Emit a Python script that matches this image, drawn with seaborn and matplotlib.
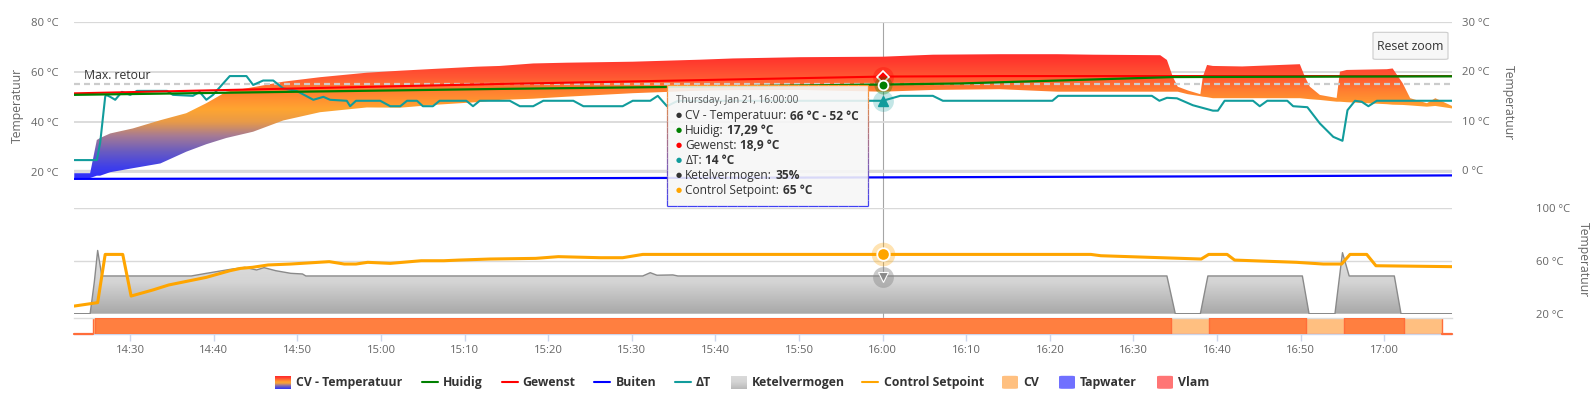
import numpy as np
import matplotlib
matplotlib.use('Agg')
import matplotlib.pyplot as plt
import seaborn as sns
from matplotlib.colors import LinearSegmentedColormap
from matplotlib.patches import FancyBboxPatch
from matplotlib.lines import Line2D
from matplotlib.collections import LineCollection
from matplotlib.ticker import FuncFormatter

# time axis in minutes after 14:00
# CV - Temperatuur (range: high / low), left axis
cv_t = [23.3, 25.2, 26.0, 26.4, 27.6, 30.3, 33.6, 36.7, 39.1, 41.5, 44.7, 48.3, 52.7, 58.3,
        62.3, 66.2, 71.4, 74.2, 78.2, 82.2, 90.1, 98.1, 102.1, 110.1, 120.0, 126.0, 134.0,
        140.9, 145.2, 153.2, 154.0, 154.7, 155.3, 156.5, 158.0, 158.3, 158.8, 159.5, 163.0,
        169.9, 170.5, 171.1, 172.3, 174.3, 174.7, 175.5, 180.3, 181.0, 182.2, 183.1, 185.1,
        186.1, 188.1]
cv_high = [19.4, 19.4, 32.7, 33.5, 35.3, 37.3, 40.6, 43.4, 47.4, 52.0, 53.8, 56.0, 57.8, 59.6,
           60.4, 61.1, 62.0, 62.3, 63.3, 63.6, 64.0, 64.8, 65.3, 65.8, 66.0, 66.8, 67.0,
           67.0, 66.8, 66.6, 64.7, 58.0, 54.0, 52.5, 51.0, 58.0, 62.7, 62.3, 62.1,
           63.0, 58.0, 54.0, 50.7, 49.5, 60.0, 60.7, 61.0, 61.3, 55.4, 49.4, 47.4,
           49.4, 46.3]
cv_low = [17.5, 17.5, 18.4, 18.4, 19.8, 21.4, 23.3, 28.0, 31.0, 33.5, 36.0, 40.5, 43.8, 45.7,
          45.6, 46.7, 47.8, 48.7, 49.2, 50.0, 51.4, 52.4, 52.6, 52.7, 52.0, 52.7, 53.0,
          52.0, 52.0, 52.0, 52.0, 52.0, 52.0, 51.0, 50.2, 50.0, 49.8, 49.4, 49.4,
          49.4, 49.2, 49.0, 48.7, 48.0, 48.0, 47.8, 47.0, 46.8, 46.7, 46.5, 46.0,
          46.3, 45.3]
max_retour = 55

# right axis series
huidig_t = [23.3, 74.2, 120.0, 129.2, 154.7, 188.1]
huidig = [15.2, 16.4, 17.29, 17.5, 18.8, 18.95]
gewenst_t = [23.3, 74.2, 120.0, 134.0, 188.1]
gewenst = [15.5, 17.4, 18.9, 19.0, 19.0]
buiten_t = [23.3, 74.2, 120.0, 158.0, 188.1]
buiten = [-1.8, -1.7, -1.5, -1.3, -1.1]
dt_t = [23.3, 26.0, 26.4, 27.0, 27.1, 27.6, 28.2, 29.0, 30.0, 30.8, 34.4, 35.1, 37.5, 38.3,
        39.1, 39.9, 41.9, 43.9, 44.7, 45.9, 47.1, 48.3, 49.9, 51.9, 53.1, 53.9, 55.9, 56.3,
        57.0, 59.9, 61.1, 62.3, 63.1, 64.3, 65.0, 66.2, 67.0, 70.2, 71.0, 71.8, 75.4, 76.6,
        78.2, 79.4, 83.0, 84.2, 88.9, 90.1, 92.2, 93.1, 94.2, 95.5, 120.0, 122.1, 126.0,
        127.2, 140.3, 141.0, 152.2, 153.1, 154.0, 155.2, 157.1, 159.5, 160.1, 160.9, 164.3,
        165.1, 166.0, 168.4, 169.1, 170.8, 172.3, 173.9, 175.0, 175.6, 176.5, 177.3, 178.1,
        179.1, 188.1]
delta_t = [2.0, 2.0, 5.5, 14.8, 15.2, 14.8, 14.2, 15.8, 15.2, 16.0, 16.0, 15.2, 15.0, 15.8,
           14.2, 15.2, 19.0, 19.0, 17.2, 18.1, 18.1, 16.5, 16.0, 14.2, 14.8, 14.2, 14.0, 12.9,
           14.0, 14.0, 12.9, 12.9, 14.0, 14.0, 12.9, 12.9, 14.0, 14.0, 12.9, 14.0, 14.0, 12.9,
           12.9, 14.0, 14.0, 12.9, 12.9, 14.0, 14.0, 15.0, 12.9, 14.0, 14.0, 15.0, 15.0,
           14.0, 14.0, 15.0, 15.0, 14.0, 14.6, 14.5, 13.1, 12.0, 12.0, 14.0, 14.0,
           12.9, 14.0, 14.0, 12.9, 12.7, 9.4, 6.7, 5.9, 12.1, 14.0, 13.8, 12.9,
           14.0, 14.0]

# middle panel
setpoint_t = [23.3, 26.1, 27.0, 29.1, 30.1, 32.7, 34.6, 39.1, 41.9, 43.2, 44.6, 46.5, 49.2,
              53.8, 55.6, 57.0, 58.4, 61.1, 64.8, 67.5, 69.3, 73.0, 78.5, 81.2, 86.2, 88.9,
              91.3, 120.0, 144.9, 146.1, 158.1, 159.0, 161.2, 162.1, 169.5, 172.7, 174.9,
              175.9, 177.9, 179.0, 188.1]
setpoint = [25.8, 28.4, 65.0, 65.0, 33.4, 38.0, 41.8, 47.6, 52.6, 54.4, 55.2, 57.0, 57.7,
            59.5, 57.7, 57.7, 59.0, 58.2, 60.2, 60.2, 60.7, 61.5, 62.0, 63.3, 62.5, 62.5,
            65.0, 65.0, 65.0, 64.0, 61.5, 65.0, 65.0, 60.7, 59.0, 57.7, 57.7,
            65.0, 65.0, 56.4, 55.7]
kv_t = [23.3, 25.2, 25.7, 26.1, 26.6, 37.3, 39.1, 41.9, 43.7, 45.1, 46.0, 47.4, 49.2, 50.6,
        51.0, 91.3, 92.2, 93.0, 94.9, 95.5, 154.0, 155.0, 158.0, 158.9, 170.2, 171.0, 174.1,
        175.0, 175.8, 181.2, 182.0, 188.1]
ketelvermogen = [0, 0, 30, 60, 35.8, 35.8, 38.3, 42.0, 44.0, 41.5, 43.7, 40.8, 38.3, 37.7,
                 35.8, 35.8, 38.9, 36.5, 36.8, 35.8, 35.8, 0, 0, 35.8, 35.8, 0, 0,
                 57.9, 35.8, 35.8, 0, 0]

# state bars
cv_on = [(25.5, 186.9)]
vlam_on = [(25.8, 154.5), (159.0, 170.6), (175.2, 182.4)]

# tooltip at 16:00
hover_t = 120.0
tip_header = 'Thursday, Jan 21, 16:00:00'
tip_names = ['CV - Temperatuur:', 'Huidig:', 'Gewenst:', '\u0394T:', 'Ketelvermogen:', 'Control Setpoint:']
tip_values = ['66 \u00b0C - 52 \u00b0C', '17,29 \u00b0C', '18,9 \u00b0C', '14 \u00b0C', '35%', '65 \u00b0C']
tip_huidig, tip_gewenst, tip_dt, tip_kv, tip_setpoint = 17.29, 18.9, 14, 35, 65

W, H = 1596, 395
TXT = '#333333'
LBL = '#666666'
GRID = '#d9d9d9'
GREEN, RED, BLUE, TEAL, ORANGE = '#008000', '#ff0000', '#0000ff', '#119c9c', '#ffa500'

sns.set_theme(style='white')
plt.rcParams['font.family'] = ['Open Sans', 'DejaVu Sans']

fig = plt.figure(figsize=(W / 100, H / 100), dpi=100)


def fx(x):
    return x / W


def fy(y):
    return 1 - y / H


def add_ax(x0, y0, x1, y1):
    a = fig.add_axes([x0 / W, 1 - y1 / H, (x1 - x0) / W, (y1 - y0) / H])
    a.patch.set_alpha(0)
    return a


def clean(a):
    for s in a.spines.values():
        s.set_visible(False)


def fmt_time(m, _):
    m = int(round(m))
    return f'{14 + m // 60}:{m % 60:02d}'


XL = (23.27, 188.1)
cv_cmap = LinearSegmentedColormap.from_list('cv', [
    (0.0, '#2b2bff'), (0.10, '#4040e8'), (0.22, '#6a5cc0'), (0.34, '#a57a95'),
    (0.45, '#e89a48'), (0.55, '#ffa530'), (0.69, '#ff8030'), (0.80, '#ff5833'),
    (0.92, '#ff3a2e'), (1.0, '#ff2a2a')])
kv_cmap = LinearSegmentedColormap.from_list('kv', ['#a8a8a8', '#d4d4d4', '#e0e0e0'])

# ---------------- top panel ----------------
ax_t = add_ax(74, 21.7, 1452, 180)
clean(ax_t)
YT = (16.68, 80)
for v in [20, 40, 60]:
    ax_t.axhline(v, color=GRID, lw=1.3, zorder=0)
ax_t.axhline(80, color=GRID, lw=0.9, zorder=0)
# right axis grid (0 °C sits just above the 20 °C line)
for v in [0]:
    ax_t.axhline(80 - (30 - v) * 4.943 / 2.5, color=GRID, lw=1.0, zorder=0)

poly = ax_t.fill_between(cv_t, cv_low, cv_high, color='none', lw=0)
grad = np.linspace(YT[0], YT[1], 400).reshape(-1, 1)
im = ax_t.imshow(grad, extent=[XL[0], XL[1], YT[0], YT[1]], origin='lower', aspect='auto',
                 cmap=cv_cmap, vmin=16.68, vmax=68, zorder=1)
im.set_clip_path(poly.get_paths()[0], transform=ax_t.transData)
ax_t.axhline(max_retour, color='#cccccc', lw=1.6, dashes=(2.7, 1.8), zorder=3)
ax_t.text(24.5, 58.4, 'Max. retour', fontsize=8.8, color=TXT, va='center', zorder=4)
ax_t.set_xlim(*XL)
ax_t.set_ylim(*YT)
ax_t.set_xticks([])
ax_t.set_yticks([20, 40, 60, 80])
ax_t.set_yticklabels([f'{v} \u00b0C' for v in [20, 40, 60, 80]])
ax_t.tick_params(axis='y', length=0, pad=11.3, labelsize=8.1, labelcolor=LBL)

ax_r = ax_t.twinx()
clean(ax_r)
ax_r.patch.set_alpha(0)
sns.lineplot(x=buiten_t, y=buiten, ax=ax_r, color=BLUE, lw=1.6, estimator=None, sort=False, legend=False)
sns.lineplot(x=dt_t, y=delta_t, ax=ax_r, color=TEAL, lw=1.5, estimator=None, sort=False, legend=False)
sns.lineplot(x=gewenst_t, y=gewenst, ax=ax_r, color=RED, lw=1.5, estimator=None, sort=False, legend=False)
sns.lineplot(x=huidig_t, y=huidig, ax=ax_r, color=GREEN, lw=1.6, estimator=None, sort=False, legend=False)
ax_r.plot(hover_t, tip_dt, 'o', ms=15, color=TEAL, alpha=0.25, mec='none')
ax_r.plot(hover_t, tip_dt, '^', ms=7, color=TEAL, mec=TEAL)
ax_r.plot(hover_t, tip_gewenst, 'o', ms=15, color=RED, alpha=0.3, mec='none')
ax_r.plot(hover_t, tip_gewenst, 'D', ms=6.5, color=RED, mec='white', mew=1.2)
ax_r.plot(hover_t, tip_huidig, 'o', ms=13, color=GREEN, alpha=0.3, mec='none')
ax_r.plot(hover_t, tip_huidig, 'o', ms=7, color=GREEN, mec='white', mew=1.3)
ax_r.set_xlim(*XL)
ax_r.set_ylim(-2.03, 30)
ax_r.set_yticks([0, 10, 20, 30])
ax_r.set_yticklabels([f'{v} \u00b0C' for v in [0, 10, 20, 30]])
ax_r.tick_params(axis='y', length=0, pad=7, labelsize=8.1, labelcolor=LBL)
ax_r.set_ylabel('')

# ---------------- middle panel ----------------
ax_k = add_ax(74, 208.3, 1452, 313.7)
clean(ax_k)
for v in [20, 60, 100]:
    ax_k.axhline((v - 20) / 80 * 100, color=GRID, lw=1.0, zorder=0)
kpoly = ax_k.fill_between(kv_t, 0, ketelvermogen, color='none', lw=0)
kgrad = np.linspace(0, 100, 200).reshape(-1, 1)
kim = ax_k.imshow(kgrad, extent=[XL[0], XL[1], 0, 100], origin='lower', aspect='auto',
                  cmap=kv_cmap, vmin=0, vmax=60, zorder=1)
kim.set_clip_path(kpoly.get_paths()[0], transform=ax_k.transData)
sns.lineplot(x=kv_t, y=ketelvermogen, ax=ax_k, color='#8a8a8a', lw=1.0, estimator=None,
             sort=False, legend=False)
ax_k.plot(hover_t, tip_kv, 'o', ms=15, color='#888888', alpha=0.45, mec='none')
ax_k.plot(hover_t, tip_kv, 'v', ms=7, color='#8a8a8a', mec='white', mew=0.8)
ax_k.set_xlim(*XL)
ax_k.set_ylim(0, 100)
ax_k.set_xticks([])
ax_k.set_yticks([])
ax_k.set_ylabel('')

ax_m = ax_k.twinx()
clean(ax_m)
ax_m.patch.set_alpha(0)
sns.lineplot(x=setpoint_t, y=setpoint, ax=ax_m, color=ORANGE, lw=2.2, estimator=None,
             sort=False, legend=False)
ax_m.plot(hover_t, tip_setpoint, 'o', ms=17, color=ORANGE, alpha=0.3, mec='none')
ax_m.plot(hover_t, tip_setpoint, 'o', ms=9, color=ORANGE, mec='white', mew=1.3)
ax_m.set_xlim(*XL)
ax_m.set_ylim(20, 100)
ax_m.set_yticks([20, 60, 100])
ax_m.set_yticklabels([f'{v} \u00b0C' for v in [20, 60, 100]])
ax_m.tick_params(axis='y', length=0, pad=60.5, labelsize=8.1, labelcolor=LBL)
ax_m.set_ylabel('')

# ---------------- state strip ----------------
ax_b = add_ax(74, 317.5, 1452, 334.3)
for k in ['left', 'right']:
    ax_b.spines[k].set_visible(False)
ax_b.spines['top'].set_color('#dddddd')
ax_b.spines['top'].set_linewidth(1.0)
ax_b.spines['bottom'].set_color('#ccd6eb')
ax_b.spines['bottom'].set_linewidth(1.0)
ax_b.broken_barh([(a, b - a) for a, b in cv_on], (0, 1), facecolor='#ffbf80',
                 edgecolor='#ff6d3a', lw=1.0, zorder=2)
ax_b.broken_barh([(a, b - a) for a, b in vlam_on], (0, 1), facecolor='#ff7f40',
                 edgecolor='#ff6d3a', lw=1.0, zorder=3)
ax_b.plot([XL[0], cv_on[0][0]], [0, 0], color='#ff6d3a', lw=1.6, clip_on=False, zorder=4)
ax_b.plot([cv_on[-1][1], XL[1]], [0, 0], color='#ff6d3a', lw=1.6, clip_on=False, zorder=4)
ax_b.set_xlim(*XL)
ax_b.set_ylim(0, 1)
ax_b.set_yticks([])
ax_b.set_xticks(list(range(30, 181, 10)))
ax_b.xaxis.set_major_formatter(FuncFormatter(fmt_time))
ax_b.tick_params(axis='x', length=5, width=1, color='#ccd6eb', pad=3, labelsize=8.1,
                 labelcolor=LBL, bottom=True)

# crosshair
fig.add_artist(Line2D([fx(883), fx(883)], [fy(21.7), fy(334.3)], transform=fig.transFigure,
                      color='#a6a6a6', lw=0.8, zorder=-1))

# axis titles
fig.text(fx(17.3), fy(105), 'Temperatuur', rotation=90, ha='center', va='center',
         fontsize=8.8, color=LBL)
fig.text(fx(1508), fy(103), 'Temperatuur', rotation=270, ha='center', va='center',
         fontsize=8.8, color=LBL)
fig.text(fx(1583), fy(260), 'Temperatuur', rotation=270, ha='center', va='center',
         fontsize=8.8, color=LBL)

# reset zoom button
fig.add_artist(FancyBboxPatch((fx(1373), fy(59.3)), fx(75), 27 / H, transform=fig.transFigure,
                              boxstyle='round,pad=0,rounding_size=0.002', facecolor='#f7f7f7',
                              edgecolor='#cccccc', lw=0.8, zorder=5))
fig.text(fx(1410.5), fy(46), 'Reset zoom', ha='center', va='center', fontsize=8.8, color=TXT,
         zorder=6)

# tooltip
bx0, by0, bx1, by1 = 666.7, 85, 868.3, 206
fig.add_artist(FancyBboxPatch((fx(bx0), fy(by1)), fx(bx1 - bx0), (by1 - by0) / H,
                              transform=fig.transFigure, boxstyle='square,pad=0',
                              facecolor='#f7f7f7', alpha=0.88, edgecolor='none', zorder=5))
edge_pts = [(bx0, by0), (bx1, by0), (bx1, by1), (bx0, by1), (bx0, by0)]
segs, cols = [], []
top_c, bot_c = np.array([1.0, 0.6, 0.2]), np.array([0.25, 0.25, 0.95])
for (xa, ya), (xb, yb) in zip(edge_pts[:-1], edge_pts[1:]):
    for s in range(20):
        ya_s = ya + (yb - ya) * s / 20
        yb_s = ya + (yb - ya) * (s + 1) / 20
        xa_s = xa + (xb - xa) * s / 20
        xb_s = xa + (xb - xa) * (s + 1) / 20
        segs.append([(fx(xa_s), fy(ya_s)), (fx(xb_s), fy(yb_s))])
        f = ((ya_s + yb_s) / 2 - by0) / (by1 - by0)
        cols.append(top_c * (1 - f) + bot_c * f)
fig.add_artist(LineCollection(segs, colors=cols, linewidths=0.9, transform=fig.transFigure,
                              zorder=6))
fig.text(fx(675.5), fy(100), tip_header, fontsize=7.2, color='#555555', va='center', zorder=7)
renderer = fig.canvas.get_renderer()
bullet_cols = [TXT, GREEN, RED, TEAL, TXT, ORANGE]
for i, (nm, val, bc) in enumerate(zip(tip_names, tip_values, bullet_cols)):
    yy = 116 + i * 14.95
    fig.text(fx(676), fy(yy), '\u25cf', color=bc, fontsize=5, va='center', zorder=7)
    t = fig.text(fx(685.3), fy(yy), nm, fontsize=8.6, color=TXT, va='center', zorder=7)
    bb = t.get_window_extent(renderer)
    fig.text((bb.x1 + 3.5) / W, fy(yy), val, fontsize=8.6, fontweight='bold', color=TXT,
             va='center', zorder=7)

# legend
LY = 382.3


def legend_text(x, s):
    fig.text(fx(x), fy(LY), s, fontsize=8.8, fontweight='bold', color=TXT, va='center')


def legend_line(x, c):
    fig.add_artist(Line2D([fx(x), fx(x + 16)], [fy(LY), fy(LY)], transform=fig.transFigure,
                          color=c, lw=1.5))


def legend_box(x, c):
    fig.add_artist(FancyBboxPatch((fx(x), fy(LY + 6.5)), fx(16), 13 / H,
                                  transform=fig.transFigure,
                                  boxstyle='round,pad=0,rounding_size=0.002', facecolor=c,
                                  edgecolor='none'))


def legend_grad(x, cmap, lo, hi):
    a = add_ax(x, LY - 6.5, x + 16, LY + 6.5)
    a.imshow(np.linspace(lo, hi, 50).reshape(-1, 1), origin='lower', aspect='auto', cmap=cmap,
             vmin=0, vmax=1)
    a.axis('off')


legend_grad(275, cv_cmap, 0.05, 1.0)
legend_text(296, 'CV - Temperatuur')
legend_line(421.7, GREEN)
legend_text(442.7, 'Huidig')
legend_line(501.7, RED)
legend_text(522.5, 'Gewenst')
legend_line(594, BLUE)
legend_text(616, 'Buiten')
legend_line(675, TEAL)
legend_text(695.5, '\u0394T')
legend_grad(730.7, kv_cmap, 0.2, 0.75)
legend_text(752, 'Ketelvermogen')
legend_line(862, ORANGE)
legend_text(884, 'Control Setpoint')
legend_box(1002, '#ffc080')
legend_text(1023, 'CV')
legend_box(1059, '#7070ff')
legend_text(1080, 'Tapwater')
legend_box(1157, '#ff7575')
legend_text(1178, 'Vlam')

fig.savefig('out.png', dpi=100, facecolor='white')
